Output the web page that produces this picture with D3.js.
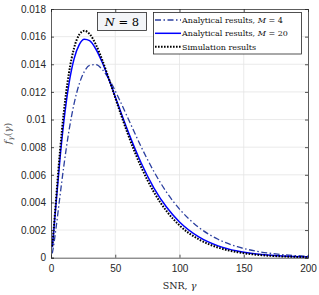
<!DOCTYPE html>
<html>
<head>
<meta charset="utf-8">
<script src="https://cdn.jsdelivr.net/npm/d3@7/dist/d3.min.js"></script>
<style>
  body { margin: 0; background: #fff; }
  svg { display: block; }
</style>
</head>
<body>
<div id="chart"></div>
<script>
// SNR values (x) shared by all series
var snr = [1, 2, 4, 7, 10, 14, 18, 22, 26, 30, 35, 40, 46, 52, 60, 70, 80, 90, 100, 115, 130, 145, 160, 180, 200];

// analytical, M = 4 (dash-dot)
var analyticM4 = [0.000316, 0.000856, 0.002211, 0.004465, 0.006652, 0.009190, 0.011166, 0.012578, 0.013476, 0.013925,
  0.013980, 0.013609, 0.012776, 0.011690, 0.010072, 0.008058, 0.006248, 0.004731, 0.003518, 0.002194,
  0.001334, 0.000794, 0.000466, 0.000224, 0.000106];

// analytical, M = 20 (solid)
var analyticM20 = [0.000763, 0.001790, 0.004001, 0.007170, 0.009868, 0.012601, 0.014410, 0.015427, 0.015811, 0.015709,
  0.015087, 0.014110, 0.012675, 0.011135, 0.009126, 0.006890, 0.005062, 0.003646, 0.002584, 0.001505,
  0.000857, 0.000480, 0.000265, 0.000118, 0.000052];

// simulation (dotted)
var simulated = [0.000830, 0.001944, 0.004330, 0.007715, 0.010560, 0.013385, 0.015190, 0.016142, 0.016422, 0.016195,
  0.015410, 0.014279, 0.012687, 0.011023, 0.008900, 0.006597, 0.004760, 0.003365, 0.002340, 0.001326,
  0.000735, 0.000400, 0.000215, 0.000092, 0.000038];

var xTicks = [0, 50, 100, 150, 200];
var yTicks = [0, 0.002, 0.004, 0.006, 0.008, 0.01, 0.012, 0.014, 0.016, 0.018];
var yTickLabels = ["0", "0.002", "0.004", "0.006", "0.008", "0.01", "0.012", "0.014", "0.016", "0.018"];

var legendLabels = ["Analytical results, ", "Analytical results, ", "Simulation results"];
var legendM = ["4", "20", null];

var width = 319, height = 295;
var pLeft = 51, pRight = 308, pTop = 9, pBottom = 257.7;
var axisColor = "#262626";

var svg = d3.select("#chart").append("svg")
    .attr("width", width)
    .attr("height", height);

var x = d3.scaleLinear().domain([0, 200]).range([pLeft, pRight]);
var y = d3.scaleLinear().domain([0, 0.018]).range([pBottom, pTop]);

// grid
svg.append("g").selectAll("line").data(xTicks.slice(1, -1)).join("line")
    .attr("x1", d => x(d)).attr("x2", d => x(d))
    .attr("y1", pTop).attr("y2", pBottom)
    .attr("stroke", "#e5e5e5").attr("stroke-width", 0.8);
svg.append("g").selectAll("line").data(yTicks.slice(1, -1)).join("line")
    .attr("x1", pLeft).attr("x2", pRight)
    .attr("y1", d => y(d)).attr("y2", d => y(d))
    .attr("stroke", "#e5e5e5").attr("stroke-width", 0.8);

// curves
var line = d3.line()
    .x((d, i) => x(snr[i]))
    .y(d => y(d))
    .curve(d3.curveMonotoneX);

svg.append("path").datum(analyticM4)
    .attr("d", line).attr("fill", "none")
    .attr("stroke", "#2b3f9f").attr("stroke-width", 1.3)
    .attr("stroke-dasharray", "6,2.5,1.5,2.5");

svg.append("path").datum(analyticM20)
    .attr("d", line).attr("fill", "none")
    .attr("stroke", "#0000ff").attr("stroke-width", 1.5);

svg.append("path").datum(simulated)
    .attr("d", line).attr("fill", "none")
    .attr("stroke", "#000").attr("stroke-width", 2)
    .attr("stroke-dasharray", "1.6,1.4");

// axes box
var xAxis = d3.axisBottom(x).tickValues(xTicks).tickSize(-3).tickPadding(7);
svg.append("g").attr("transform", "translate(0," + pBottom + ")").call(xAxis);
var yAxis = d3.axisLeft(y).tickValues(yTicks).tickSize(-3).tickPadding(5)
    .tickFormat((d, i) => yTickLabels[i]);
svg.append("g").attr("transform", "translate(" + pLeft + ",0)").call(yAxis);
svg.append("g").attr("transform", "translate(0," + pTop + ")")
    .call(d3.axisTop(x).tickValues(xTicks).tickSize(-3).tickFormat(""));
svg.append("g").attr("transform", "translate(" + pRight + ",0)")
    .call(d3.axisRight(y).tickValues(yTicks).tickSize(-3).tickFormat(""));

svg.selectAll(".domain").attr("stroke", "#333").attr("stroke-width", 0.8);
svg.selectAll(".tick line").attr("stroke", axisColor).attr("stroke-width", 0.8);
svg.selectAll(".tick text")
    .attr("fill", axisColor)
    .style("font-family", "'Liberation Sans', Arial, sans-serif")
    .style("font-size", "10px");

// axis labels
svg.append("text")
    .attr("x", x(100)).attr("y", 289)
    .attr("text-anchor", "middle")
    .style("font-family", "'DejaVu Serif', serif")
    .style("font-size", "9.5px")
    .attr("fill", axisColor)
    .html("SNR, <tspan font-style='italic'>γ</tspan>");

var yl = svg.append("text")
    .attr("transform", "translate(11," + ((pTop + pBottom) / 2) + ") rotate(-90)")
    .attr("text-anchor", "middle")
    .style("font-family", "'DejaVu Serif', serif")
    .style("font-size", "10px")
    .attr("fill", "#555");
yl.append("tspan").attr("font-style", "italic").text("f");
yl.append("tspan").attr("font-style", "italic").attr("font-size", "7px").attr("dy", 2).text("γ");
yl.append("tspan").attr("dy", -2).text("(");
yl.append("tspan").attr("font-style", "italic").text("γ");
yl.append("tspan").text(")");

// N = 8 annotation
svg.append("rect")
    .attr("x", 97.5).attr("y", 12.5).attr("width", 49).attr("height", 18)
    .attr("fill", "#f3f5f8").attr("stroke", axisColor).attr("stroke-width", 0.8);
var nt = svg.append("text")
    .attr("x", 122).attr("y", 26)
    .attr("text-anchor", "middle")
    .style("font-family", "'DejaVu Serif', serif")
    .style("font-size", "11.5px")
    .attr("fill", "#000");
nt.append("tspan").attr("font-style", "italic").text("N");
nt.append("tspan").text(" = 8");

// legend
var lg = svg.append("g");
lg.append("rect")
    .attr("x", 153.5).attr("y", 12.5).attr("width", 148).attr("height", 41.5)
    .attr("fill", "#fff").attr("stroke", axisColor).attr("stroke-width", 0.8);
var legendStyles = [
  { stroke: "#2b3f9f", width: 1.3, dash: "6,2.5,1.5,2.5" },
  { stroke: "#0000ff", width: 1.5, dash: null },
  { stroke: "#000", width: 2, dash: "1.6,1.4" }
];
var rowY = [20, 33.3, 46.7];
legendLabels.forEach(function(lab, i) {
  lg.append("line")
      .attr("x1", 155).attr("x2", 181)
      .attr("y1", rowY[i]).attr("y2", rowY[i])
      .attr("stroke", legendStyles[i].stroke)
      .attr("stroke-width", legendStyles[i].width)
      .attr("stroke-dasharray", legendStyles[i].dash);
  var t = lg.append("text")
      .attr("x", 182).attr("y", rowY[i] + 3)
      .style("font-family", "'DejaVu Serif', serif")
      .style("font-size", "8px")
      .attr("fill", "#111");
  t.append("tspan").text(lab);
  if (legendM[i]) {
    t.append("tspan").attr("font-style", "italic").text("M");
    t.append("tspan").text(" = " + legendM[i]);
  }
});
</script>
</body>
</html>
